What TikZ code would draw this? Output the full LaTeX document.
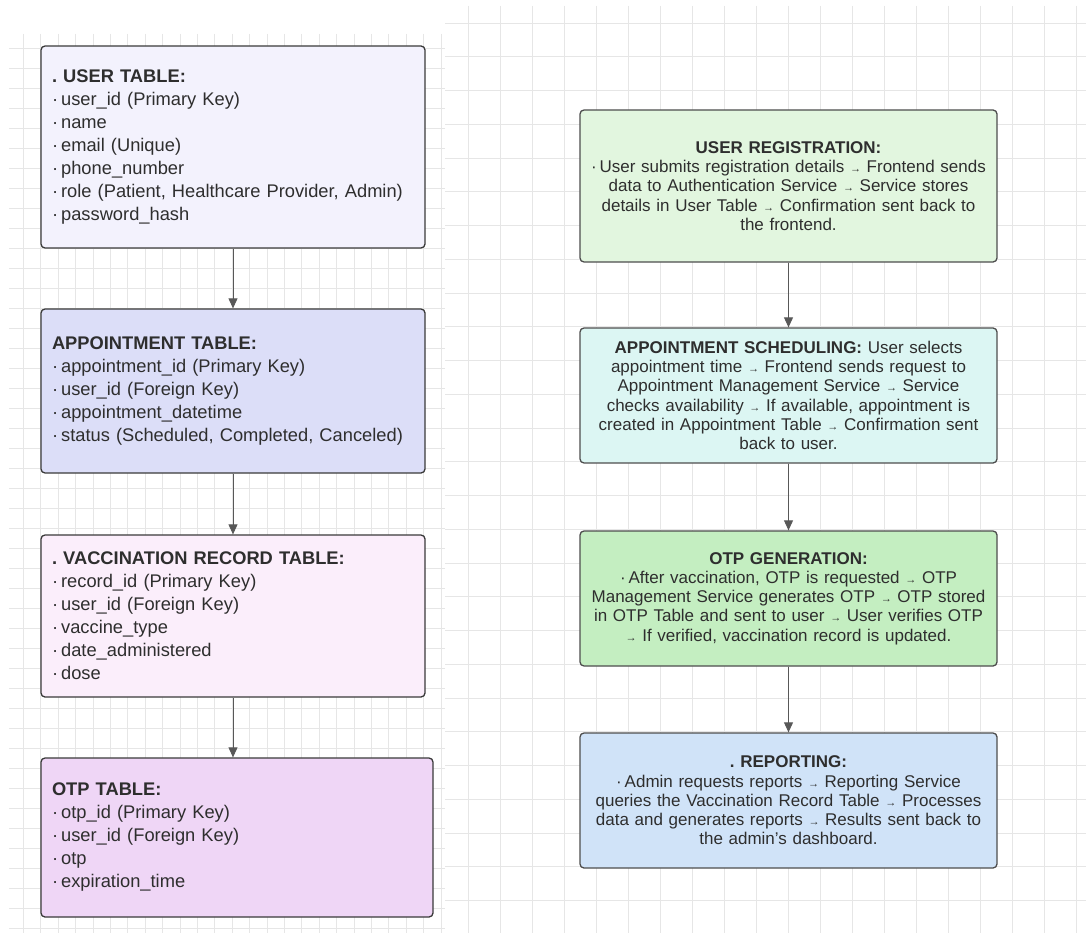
\documentclass[tikz,border=0pt]{standalone}
\usepackage{fontspec}
\setmainfont{Liberation Sans}
\usetikzlibrary{arrows.meta}
\definecolor{usercol}{HTML}{F3F2FD}
\definecolor{apptcol}{HTML}{DCDEF8}
\definecolor{vacccol}{HTML}{FBEEFB}
\definecolor{otpcol}{HTML}{EFD6F6}
\definecolor{regcol}{HTML}{E2F6DF}
\definecolor{schedcol}{HTML}{DCF6F3}
\definecolor{gencol}{HTML}{C4EEC1}
\definecolor{repcol}{HTML}{D0E3F8}
\definecolor{edgecol}{HTML}{3A3A3A}
\definecolor{inkcol}{HTML}{2E2E2E}
\definecolor{gridcol}{HTML}{E6E6E6}
\newcommand{\itm}{·\,}
\newcommand{\nxt}{{\fontsize{11}{11}\selectfont→}}
\frenchspacing
\tikzset{
  tablebox/.style={draw=edgecol, line width=1.3pt, rounded corners=4pt,
    minimum width=384, text width=362, inner xsep=11, align=left,
    text=inkcol, font=\fontsize{18.3}{23}\selectfont},
  stepbox/.style={draw=edgecol!90, line width=1.3pt, rounded corners=4pt,
    minimum width=417, text width=405, inner xsep=6, align=center,
    text=inkcol, font=\fontsize{17}{19.2}\selectfont},
  flow/.style={draw=edgecol!85, line width=0.9pt, -{Triangle[width=9pt,length=10pt]}},
  gridline/.style={draw=gridcol, line width=0.6pt}
}
\begin{document}
\begin{tikzpicture}[x=1pt,y=-1pt]
  \useasboundingbox[fill=white] (0,0) rectangle (1086,933);
  \foreach \gx in {23.3,40.7,...,441} \draw[gridline] (\gx,34) -- (\gx,933);
  \foreach \gy in {48,68,...,930} \draw[gridline] (9,\gy) -- (445,\gy);
  \foreach \gx in {468,500,...,1086} \draw[gridline] (\gx,6) -- (\gx,933);
  \foreach \gy in {23,56.75,...,930} \draw[gridline] (445,\gy) -- (1086,\gy);

  \node[tablebox, fill=usercol, minimum height=202] (user) at (233,147)
    {\textbf{. USER TABLE:}\\
     \itm user\_id (Primary Key)\\
     \itm name\\
     \itm email (Unique)\\
     \itm phone\_number\\
     \itm role (Patient, Healthcare Provider, Admin)\\
     \itm password\_hash};
  \node[tablebox, fill=apptcol, minimum height=164] (appt) at (233,391)
    {\textbf{APPOINTMENT TABLE:}\\
     \itm appointment\_id (Primary Key)\\
     \itm user\_id (Foreign Key)\\
     \itm appointment\_datetime\\
     \itm status (Scheduled, Completed, Canceled)};
  \node[tablebox, fill=vacccol, minimum height=162] (vacc) at (233,616)
    {\textbf{. VACCINATION RECORD TABLE:}\\
     \itm record\_id (Primary Key)\\
     \itm user\_id (Foreign Key)\\
     \itm vaccine\_type\\
     \itm date\_administered\\
     \itm dose};
  \node[tablebox, fill=otpcol, minimum height=159, minimum width=392, text width=370] (otp) at (237,837.5)
    {\textbf{OTP TABLE:}\\
     \itm otp\_id (Primary Key)\\
     \itm user\_id (Foreign Key)\\
     \itm otp\\
     \itm expiration\_time};

  \node[stepbox, fill=regcol, minimum height=152] (reg) at (788.5,186)
    {\textbf{USER REGISTRATION:}\\
     \itm User submits registration details \nxt{} Frontend sends\\
     data to Authentication Service \nxt{} Service stores\\
     details in User Table \nxt{} Confirmation sent back to\\
     the frontend.};
  \node[stepbox, fill=schedcol, minimum height=135] (sched) at (788.5,395.5)
    {\textbf{APPOINTMENT SCHEDULING:} User selects\\
     appointment time \nxt{} Frontend sends request to\\
     Appointment Management Service \nxt{} Service\\
     checks availability \nxt{} If available, appointment is\\
     created in Appointment Table \nxt{} Confirmation sent\\
     back to user.};
  \node[stepbox, fill=gencol, minimum height=135] (gen) at (788.5,598.5)
    {\textbf{OTP GENERATION:}\\
     \itm After vaccination, OTP is requested \nxt{} OTP\\
     Management Service generates OTP \nxt{} OTP stored\\
     in OTP Table and sent to user \nxt{} User verifies OTP\\
     \nxt{} If verified, vaccination record is updated.};
  \node[stepbox, fill=repcol, minimum height=135] (rep) at (788.5,800.5)
    {\textbf{. REPORTING:}\\
     \itm Admin requests reports \nxt{} Reporting Service\\
     queries the Vaccination Record Table \nxt{} Processes\\
     data and generates reports \nxt{} Results sent back to\\
     the admin's dashboard.};

  \begin{scope}[flow]
    \draw (user) to (appt);
    \draw (appt) to (vacc);
    \draw (vacc.south) to (vacc.south |- otp.north);
    \draw (reg) to (sched);
    \draw (sched) to (gen);
    \draw (gen) to (rep);
  \end{scope}
\end{tikzpicture}
\end{document}
